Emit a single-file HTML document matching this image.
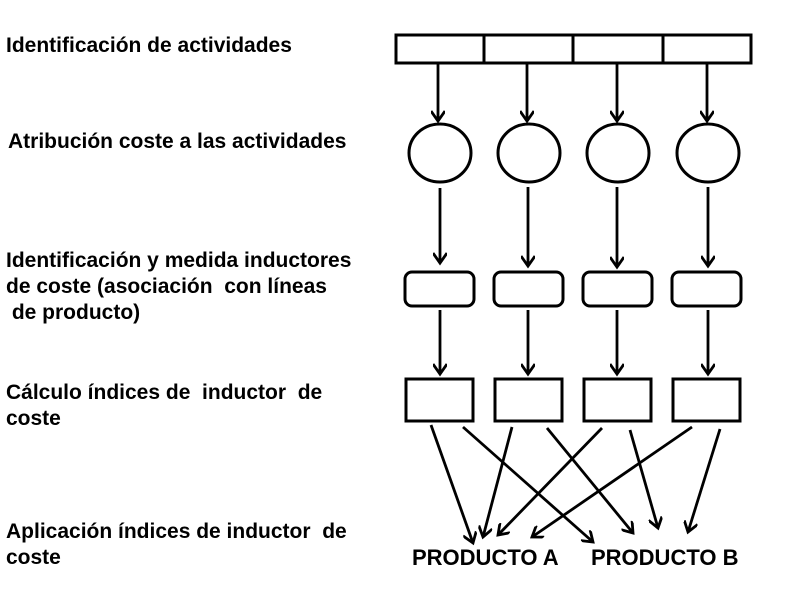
<!DOCTYPE html>
<html><head><meta charset="utf-8"><style>
body{margin:0;background:#fff;width:800px;height:600px;overflow:hidden;position:relative;font-family:"Liberation Sans",Arial,sans-serif;}
.t{position:absolute;font-weight:bold;font-size:21px;color:#000;white-space:pre;line-height:26px;}
.p{font-size:22px;}
svg{position:absolute;left:0;top:0}
</style></head><body>
<svg width="800" height="600" viewBox="0 0 800 600">
<defs><marker id="a" markerWidth="14" markerHeight="14" refX="11" refY="7" orient="auto" markerUnits="userSpaceOnUse"><path d="M1,0 L11,7 L1,14" fill="none" stroke="#000" stroke-width="2.8"/></marker></defs>
<g fill="none" stroke="#000" stroke-width="3">
<rect x="396" y="35" width="355" height="28"/>
<line x1="484" y1="35" x2="484" y2="63"/><line x1="573" y1="35" x2="573" y2="63"/><line x1="663" y1="35" x2="663" y2="63"/>
<ellipse cx="440" cy="153" rx="31" ry="29"/><ellipse cx="529" cy="153" rx="31" ry="29"/><ellipse cx="618" cy="153" rx="31" ry="29"/><ellipse cx="708" cy="153" rx="31" ry="29"/>
<rect x="405" y="272" width="69" height="34" rx="7"/><rect x="494" y="272" width="69" height="34" rx="7"/><rect x="583" y="272" width="69" height="34" rx="7"/><rect x="672" y="272" width="69" height="34" rx="7"/>
<rect x="406" y="379" width="67" height="42"/><rect x="495" y="379" width="67" height="42"/><rect x="584" y="379" width="67" height="42"/><rect x="673" y="379" width="67" height="42"/>
</g>
<g stroke="#000" stroke-width="2.8" marker-end="url(#a)">
<line x1="438" y1="64" x2="438" y2="121"/><line x1="527" y1="64" x2="527" y2="121"/><line x1="617" y1="64" x2="617" y2="121"/><line x1="707" y1="64" x2="707" y2="121"/>
<line x1="440" y1="188" x2="440" y2="263"/><line x1="528" y1="187" x2="528" y2="266"/><line x1="617" y1="187" x2="617" y2="267"/><line x1="708" y1="187" x2="708" y2="266"/>
<line x1="440" y1="310" x2="440" y2="374"/><line x1="528" y1="310" x2="528" y2="374"/><line x1="617" y1="310" x2="617" y2="374"/><line x1="708" y1="310" x2="708" y2="374"/>
<line x1="431" y1="425" x2="473" y2="543"/>
<line x1="463" y1="427" x2="593" y2="542"/>
<line x1="512" y1="427" x2="483" y2="537"/>
<line x1="547" y1="428" x2="633" y2="533"/>
<line x1="602" y1="428" x2="498" y2="535"/>
<line x1="630" y1="430" x2="658" y2="528"/>
<line x1="692" y1="427" x2="532" y2="537"/>
<line x1="720" y1="429" x2="688" y2="532"/>
</g>
</svg>
<div class="t" style="left:6px;top:33px">Identificación de actividades</div>
<div class="t" style="left:8px;top:129px">Atribución coste a las actividades</div>
<div class="t" style="left:6px;top:248px">Identificación y medida inductores
de coste (asociación  con líneas
 de producto)</div>
<div class="t" style="left:6px;top:380px">Cálculo índices de  inductor  de
coste</div>
<div class="t" style="left:6px;top:519px">Aplicación índices de inductor  de
coste</div>
<div class="t p" style="left:412px;top:545px">PRODUCTO A</div>
<div class="t p" style="left:591px;top:545px">PRODUCTO B</div>
</body></html>
